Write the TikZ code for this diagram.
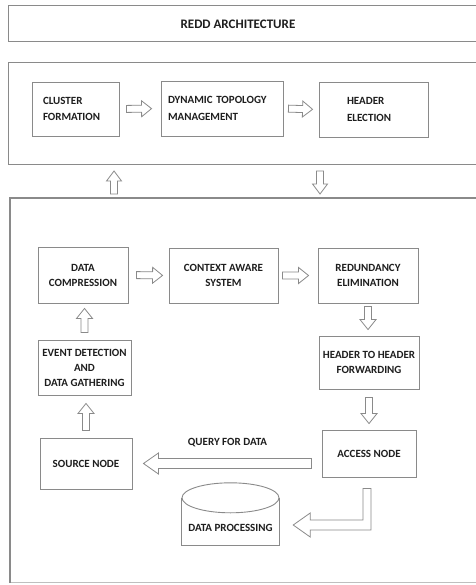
\documentclass[tikz,border=0pt]{standalone}
\usepackage{fontspec}
\setmainfont{Carlito}
\usetikzlibrary{calc}

\definecolor{edge}{HTML}{8A8A8A}
\definecolor{ink}{HTML}{1E1E1E}

\tikzset{
  frame/.style={draw=edge, line width=0.9bp},
  box/.style={draw=edge, line width=0.9bp, fill=white, inner sep=0pt,
    text=ink, align=center, font=\bfseries\fontsize{11bp}{15bp}\selectfont},
  lbox/.style={box, align=left, font=\bfseries\fontsize{11bp}{16.5bp}\selectfont},
  hollow/.style={draw=edge, fill=white, line width=0.8bp, line join=miter},
  lbl/.style={text=ink, inner sep=0pt, font=\bfseries\fontsize{11bp}{13bp}\selectfont},
  titlelbl/.style={lbl, font=\bfseries\fontsize{13bp}{15bp}\selectfont},
}

% hollow block arrow from #1 to #2: shaft half-width #3, head half-width #4, head length #5
\newcommand{\blockarrow}[5]{%
  \draw[hollow] let \p1=#1, \p2=#2,
      \n1={veclen(\x2-\x1,\y2-\y1)},
      \n2={(\x2-\x1)/\n1}, \n3={(\y2-\y1)/\n1},
      \p3=({\x2-(#5)*\n2},{\y2-(#5)*\n3})
    in ({\x1-(#3)*\n3},{\y1+(#3)*\n2})
    -- ({\x3-(#3)*\n3},{\y3+(#3)*\n2})
    -- ({\x3-(#4)*\n3},{\y3+(#4)*\n2})
    -- (\p2)
    -- ({\x3+(#4)*\n3},{\y3-(#4)*\n2})
    -- ({\x3+(#3)*\n3},{\y3-(#3)*\n2})
    -- ({\x1+(#3)*\n3},{\y1-(#3)*\n2})
    -- cycle;}

\begin{document}
\begin{tikzpicture}[x=1bp,y=-1bp]
\useasboundingbox (0,0) rectangle (476,585);
\clip (0,0) rectangle (476,585);
\fill[white] (0,0) rectangle (476,585);

% title band
\draw[frame] (8,5) rectangle (490,41);
\node[titlelbl] (title) at (238,24) {REDD ARCHITECTURE};

% cluster layer
\draw[frame] (8,62) rectangle (490,164);
\node[lbox, minimum width=87bp, minimum height=54bp, text width=65bp] (cf) at (75.5,109) {CLUSTER\\FORMATION};
\node[lbox, minimum width=122bp, minimum height=55bp, text width=108bp] (dtm) at (222,108.5) {DYNAMIC TOPOLOGY\\MANAGEMENT};
\node[lbox, minimum width=109bp, minimum height=55bp, text width=53bp] (he) at (373.5,109.5) {HEADER\\ELECTION};

\blockarrow{($(cf.east)!7bp!(dtm.west)$)}{($(dtm.west)!9bp!(cf.east)$)}{3.5bp}{8bp}{10bp}
\blockarrow{($(dtm.east)!5bp!(he.west)$)}{($(he.west)!6bp!(dtm.east)$)}{3.5bp}{8bp}{10bp}

% links between the two layers
\coordinate (upfrom) at (114,194);
\coordinate (upto) at (114,171);
\coordinate (downfrom) at (320,171);
\coordinate (downto) at (320,194);
\blockarrow{(upfrom)}{(upto)}{3.5bp}{7.5bp}{10bp}
\blockarrow{(downfrom)}{(downto)}{3.5bp}{7.5bp}{10bp}

% data layer
\draw[edge!55, line width=0.8bp] (10,582) -- (490,582);
\draw[edge, line width=1.6bp] (10,583) -- (10,198);
\draw[edge, line width=2.4bp] (9.2,198) -- (490,198);

\node[box, minimum width=90bp, minimum height=56bp] (dc) at (83,275) {DATA\\COMPRESSION};
\node[box, minimum width=109bp, minimum height=55bp] (cas) at (223.5,275.5) {CONTEXT AWARE\\SYSTEM};
\node[box, minimum width=100bp, minimum height=55bp] (re) at (368,275.5) {REDUNDANCY\\ELIMINATION};
\node[box, minimum width=100bp, minimum height=53bp] (hh) at (369,362.5) {HEADER TO HEADER\\FORWARDING};
\node[box, minimum width=93bp, minimum height=55bp] (edg) at (84.5,367.5) {EVENT DETECTION\\AND\\DATA GATHERING};
\node[box, minimum width=92bp, minimum height=51bp] (sn) at (86,463.5) {SOURCE NODE};
\node[box, minimum width=94bp, minimum height=47bp] (an) at (369,453.5) {ACCESS NODE};

% data processing store
\node[lbl, minimum width=97bp, minimum height=47bp, text height=22bp, text depth=2bp] (dp) at (230.5,521.5) {DATA PROCESSING};
\draw[edge, line width=0.9bp] (dp.north west) -- (dp.south west) -- (dp.south east) -- (dp.north east);
\draw[edge, line width=0.9bp, fill=white] (dp.north) ellipse [x radius=48.5bp, y radius=15bp];

% flow arrows
\blockarrow{($(dc.east)!8bp!(cas.west)$)}{($(cas.west)!6bp!(dc.east)$)}{3.5bp}{8bp}{10bp}
\blockarrow{($(cas.east)!4bp!(re.west)$)}{($(re.west)!9bp!(cas.east)$)}{3.5bp}{8bp}{10bp}
\blockarrow{($(re.south)!3bp!(re.south |- hh.north)$)}{($(re.south |- hh.north)!6bp!(re.south)$)}{3.5bp}{8bp}{10bp}
\blockarrow{($(hh.south)!8bp!(an.north)$)}{($(an.north)!6bp!(hh.south)$)}{3.5bp}{8bp}{10bp}
\blockarrow{($(edg.north)!7bp!(edg.north |- dc.south)$)}{($(edg.north |- dc.south)!5bp!(edg.north)$)}{3.5bp}{8bp}{10bp}
\blockarrow{($(sn.north)!7bp!(sn.north |- edg.south)$)}{($(sn.north |- edg.south)!8bp!(sn.north)$)}{3.5bp}{8bp}{10bp}

% query towards the source node
\coordinate (qstart) at ($(an.west |- sn.east)!10bp!(sn.east)$);
\coordinate (qend) at ($(sn.east)!11bp!(an.west |- sn.east)$);
\blockarrow{(qstart)}{(qend)}{5bp}{10.5bp}{15bp}
\node[lbl] (q) at ($(qstart)!0.5!(qend)+(0,-21)$) {QUERY FOR DATA};

% delivery to data processing
\coordinate (ltop) at ($(an.south)+(-2,11)$);
\coordinate (ltip) at ($(dp.east)+(14,3.5)$);
\draw[hollow] let \p1=(ltop), \p2=(ltip) in
  (\x1-4bp,\y1) -- (\x1+4bp,\y1) -- (\x1+4bp,\y2-5bp) -- (\x2+17bp,\y2-5bp)
  -- (\x2+17bp,\y2-12bp) -- (\x2,\y2) -- (\x2+17bp,\y2+12bp) -- (\x2+17bp,\y2+5bp)
  -- (\x1-4bp,\y2+5bp) -- cycle;
\end{tikzpicture}
\end{document}
